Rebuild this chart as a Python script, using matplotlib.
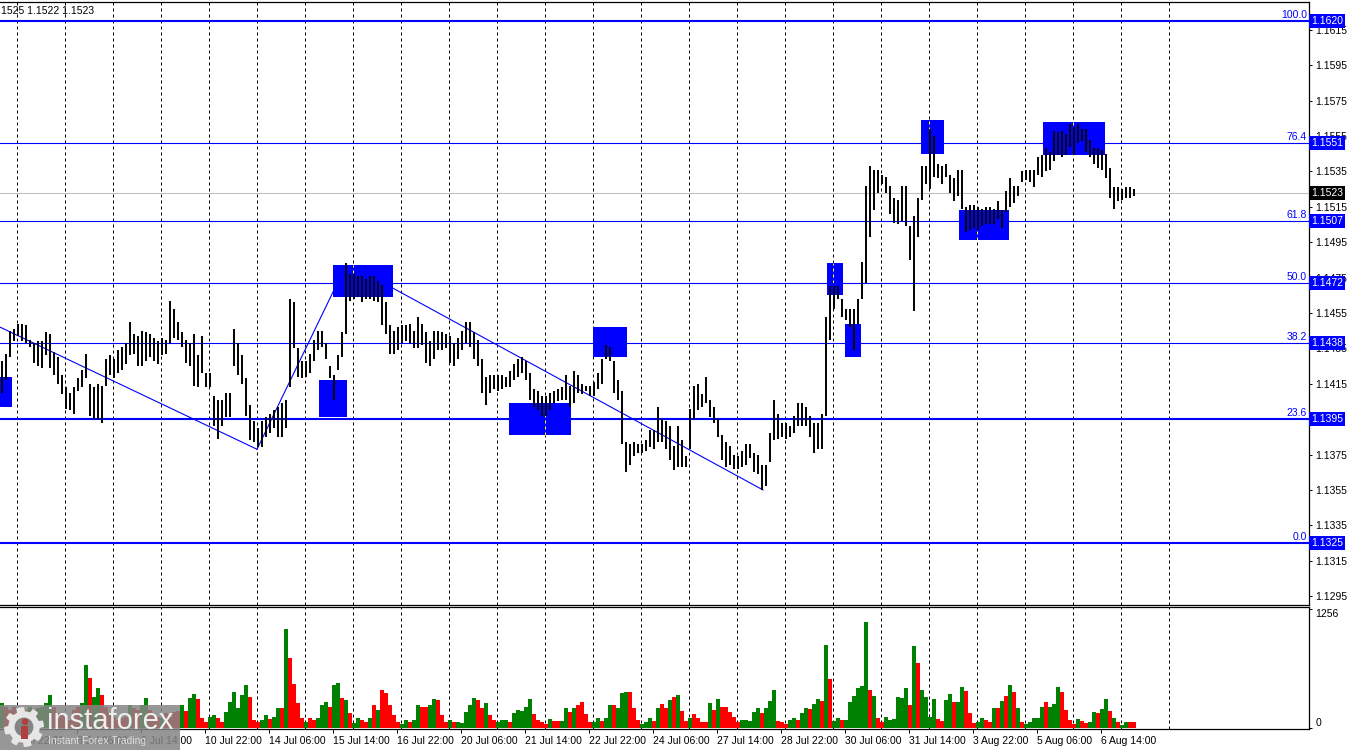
import numpy as np
import matplotlib.pyplot as plt
from matplotlib.patches import Rectangle, Polygon
from matplotlib.transforms import blended_transform_factory

plt.rcParams['font.family'] = ['Liberation Sans', 'DejaVu Sans']

# EURUSD, 2-hour steps (high / low of each step)
highs = [
    1.1428, 1.1432, 1.1445, 1.1446, 1.1449, 1.1449, 1.1448, 1.1440, 1.1438, 1.1439,
    1.1439, 1.1444, 1.1443, 1.1433, 1.1430, 1.1420, 1.1413, 1.1410, 1.1413, 1.1418,
    1.1423, 1.1432, 1.1415, 1.1413, 1.1415, 1.1414, 1.1429, 1.1431, 1.1429, 1.1434,
    1.1436, 1.1438, 1.1450, 1.1443, 1.1442, 1.1445, 1.1444, 1.1443, 1.1441, 1.1439,
    1.1441, 1.1440, 1.1462, 1.1457, 1.1450, 1.1444, 1.1440, 1.1438, 1.1443, 1.1431,
    1.1442, 1.1421, 1.1421, 1.1408, 1.1406, 1.1406, 1.1410, 1.1410, 1.1446, 1.1438,
    1.1431, 1.1418, 1.1403, 1.1394, 1.1390, 1.1394, 1.1396, 1.1398, 1.1400, 1.1402,
    1.1404, 1.1406, 1.1463, 1.1461, 1.1435, 1.1428, 1.1428, 1.1432, 1.1440, 1.1445,
    1.1445, 1.1438, 1.1425, 1.1420, 1.1431,
    1.1444, 1.1483, 1.1477, 1.1477, 1.1476, 1.1476, 1.1474, 1.1476, 1.1476, 1.1473,
    1.1471, 1.1461, 1.1448, 1.1445, 1.1447, 1.1448, 1.1448, 1.1449, 1.1445, 1.1453,
    1.1449, 1.1444, 1.1439, 1.1445, 1.1445, 1.1444, 1.1443, 1.1442, 1.1438, 1.1441,
    1.1445, 1.1450, 1.1450, 1.1444, 1.1440, 1.1429, 1.1419, 1.1420, 1.1420, 1.1420,
    1.1420, 1.1419, 1.1422, 1.1426, 1.1429, 1.1430, 1.1428, 1.1421, 1.1412, 1.1411,
    1.1408, 1.1408, 1.1410, 1.1411, 1.1412, 1.1413, 1.1420, 1.1414, 1.1422, 1.1420,
    1.1415, 1.1414, 1.1414, 1.1416, 1.1421, 1.1429, 1.1437, 1.1436, 1.1428, 1.1417,
    1.1411, 1.1382, 1.1381, 1.1382, 1.1381, 1.1381, 1.1383, 1.1389, 1.1389, 1.1402,
    1.1395,
    1.1394, 1.1391, 1.1380, 1.1391, 1.1383, 1.1374, 1.1401, 1.1414, 1.1415, 1.1409,
    1.1419, 1.1406, 1.1402, 1.1395, 1.1386, 1.1382, 1.1380, 1.1375, 1.1374, 1.1377,
    1.1381, 1.1381, 1.1376, 1.1375, 1.1369, 1.1369, 1.1387, 1.1406, 1.1398, 1.1393,
    1.1393, 1.1391, 1.1397, 1.1404, 1.1404, 1.1402, 1.1397, 1.1393, 1.1393, 1.1398,
    1.1453, 1.1470, 1.1470, 1.1470, 1.1463, 1.1457, 1.1457, 1.1457, 1.1463, 1.1484,
    1.1527, 1.1538, 1.1536, 1.1536, 1.1533, 1.1532, 1.1527, 1.1520, 1.1519, 1.1527,
    1.1527, 1.1504, 1.1510, 1.1520, 1.1538, 1.1538, 1.1559, 1.1555, 1.1539, 1.1538,
    1.1539, 1.1533, 1.1531, 1.1536, 1.1536, 1.1515, 1.1516, 1.1516, 1.1515, 1.1514,
    1.1515, 1.1515, 1.1514, 1.1518,
    1.1513, 1.1524, 1.1531, 1.1527, 1.1527, 1.1535, 1.1536, 1.1536, 1.1536, 1.1543,
    1.1544, 1.1548, 1.1546, 1.1558, 1.1557, 1.1558, 1.1556, 1.1562, 1.1560, 1.1562,
    1.1559, 1.1559, 1.1553, 1.1548, 1.1548, 1.1547, 1.1545, 1.1537, 1.1526, 1.1526,
    1.1525, 1.1526, 1.1526, 1.1525,
]
lows = [
    1.1410, 1.1417, 1.1430, 1.1439, 1.1442, 1.1439, 1.1438, 1.1436, 1.1427, 1.1425,
    1.1424, 1.1431, 1.1424, 1.1420, 1.1415, 1.1409, 1.1401, 1.1400, 1.1398, 1.1411,
    1.1413, 1.1418, 1.1397, 1.1395, 1.1395, 1.1393, 1.1414, 1.1420, 1.1418, 1.1421,
    1.1423, 1.1426, 1.1431, 1.1432, 1.1425, 1.1425, 1.1428, 1.1430, 1.1428, 1.1426,
    1.1431, 1.1432, 1.1438, 1.1441, 1.1440, 1.1436, 1.1427, 1.1425, 1.1414, 1.1413,
    1.1421, 1.1413, 1.1413, 1.1391, 1.1384, 1.1391, 1.1396, 1.1396, 1.1425, 1.1420,
    1.1415, 1.1397, 1.1383, 1.1382, 1.1379, 1.1379, 1.1385, 1.1387, 1.1390, 1.1385,
    1.1385, 1.1390, 1.1413, 1.1435, 1.1419, 1.1418, 1.1419, 1.1421, 1.1428, 1.1434,
    1.1436, 1.1429, 1.1418, 1.1406, 1.1423,
    1.1430, 1.1443, 1.1462, 1.1463, 1.1464, 1.1461, 1.1463, 1.1463, 1.1462, 1.1461,
    1.1448, 1.1443, 1.1432, 1.1432, 1.1434, 1.1438, 1.1439, 1.1438, 1.1435, 1.1435,
    1.1437, 1.1427, 1.1425, 1.1429, 1.1434, 1.1434, 1.1435, 1.1427, 1.1425, 1.1429,
    1.1434, 1.1438, 1.1436, 1.1429, 1.1425, 1.1410, 1.1403, 1.1410, 1.1412, 1.1411,
    1.1412, 1.1413, 1.1413, 1.1417, 1.1419, 1.1421, 1.1417, 1.1406, 1.1402, 1.1400,
    1.1397, 1.1397, 1.1400, 1.1404, 1.1405, 1.1406, 1.1406, 1.1402, 1.1404, 1.1410,
    1.1409, 1.1411, 1.1408, 1.1408, 1.1412, 1.1415, 1.1429, 1.1428, 1.1410, 1.1406,
    1.1381, 1.1365, 1.1369, 1.1374, 1.1376, 1.1376, 1.1377, 1.1379, 1.1378, 1.1382,
    1.1382,
    1.1378, 1.1372, 1.1366, 1.1368, 1.1368, 1.1368, 1.1378, 1.1395, 1.1400, 1.1402,
    1.1404, 1.1396, 1.1393, 1.1385, 1.1372, 1.1368, 1.1369, 1.1367, 1.1367, 1.1368,
    1.1369, 1.1373, 1.1365, 1.1364, 1.1355, 1.1357, 1.1371, 1.1383, 1.1384, 1.1385,
    1.1384, 1.1385, 1.1387, 1.1391, 1.1391, 1.1391, 1.1385, 1.1376, 1.1378, 1.1378,
    1.1397, 1.1440, 1.1457, 1.1463, 1.1453, 1.1451, 1.1447, 1.1434, 1.1449, 1.1463,
    1.1472, 1.1498, 1.1513, 1.1523, 1.1528, 1.1523, 1.1511, 1.1506, 1.1505, 1.1507,
    1.1504, 1.1485, 1.1456, 1.1498, 1.1519, 1.1528, 1.1525, 1.1532, 1.1531, 1.1528,
    1.1532, 1.1523, 1.1518, 1.1521, 1.1514, 1.1501, 1.1502, 1.1503, 1.1502, 1.1504,
    1.1505, 1.1505, 1.1505, 1.1508,
    1.1503, 1.1512, 1.1515, 1.1517, 1.1521, 1.1529, 1.1530, 1.1529, 1.1526, 1.1533,
    1.1532, 1.1535, 1.1536, 1.1541, 1.1544, 1.1543, 1.1544, 1.1549, 1.1544, 1.1551,
    1.1552, 1.1546, 1.1543, 1.1539, 1.1537, 1.1536, 1.1531, 1.1520, 1.1514, 1.1518,
    1.1519, 1.1520, 1.1520, 1.1521,
]

# tick volume per step, and G = up step / R = down step
volumes = [
    258, 222, 187, 222, 187, 169, 187, 222, 187, 205, 222, 258, 346, 222, 152, 134,
    116, 81, 187, 222, 258, 664, 522, 328, 417, 346, 222, 152, 116, 81, 99, 116,
    240, 205, 187, 240, 311, 187, 134, 116, 99, 152, 116,
    170, 178, 241, 178, 312, 355, 305, 99, 64, 117, 135, 99, 64, 170, 277, 383,
    206, 348, 454, 330, 82, 64, 82, 135, 89, 117, 206, 206, 1051, 738, 465, 259,
    99, 57, 99, 82, 99, 241, 277, 224, 454, 472, 312, 295, 153, 46, 99, 82,
    64, 99, 241, 188, 401, 366, 241, 135, 64, 36, 82, 64, 82, 241, 224, 224,
    241, 305, 295, 135, 64, 82, 57, 57, 46, 170, 241, 312, 295, 206, 259, 135,
    82, 57,
    82, 82, 64, 153, 188, 178, 224, 302, 142, 82, 57, 36, 92, 71, 71, 71,
    206, 170, 206, 241, 270, 142, 57, 57, 99, 71, 99, 241, 241, 206, 366, 376,
    383, 206, 82, 36, 64, 99, 71, 206, 249, 206, 295, 320, 348, 178, 71, 107,
    142, 107, 64, 57, 259, 188, 305, 224, 224, 170, 117, 64, 82, 82, 71, 163,
    213, 153, 206, 284, 401, 71, 57, 36, 82, 99, 82, 153, 206, 199, 256, 305,
    284, 880, 518, 71, 107, 82, 82, 277, 341, 419, 444, 1122, 401, 341, 99, 64,
    117, 82, 92, 320, 312, 419, 241, 863, 685, 401, 320, 117, 302, 92, 71, 295,
    355, 277, 277, 426, 391, 153, 46, 57, 99, 82, 64, 213, 206, 284, 341, 454,
    376, 213, 64, 36, 57, 107, 99, 224, 277, 224, 249, 426, 376, 188, 82, 36,
    92, 71, 46, 64, 163, 153, 199, 302, 178, 99, 64, 28, 64, 64, 57,
]
vol_dirs = ("GRRRRRRGRGGGGRRRRRRRGGRGGRRRRRRRGRRGGRRRGRR"
            "RRGRGGRRRGGRRGGGGGGRRRGGRGGRGRRRRGRRGGGRGGRGRGGRRGRGRRRRRGGRGGRRGGRRRGRGGGGGRRGRRG"
            "GGRGGGGGRRRRGRRGGRGRRRRGGRGGRGGGRRRGGGRGRRGRGRRGRRRRGRGRRRRRGGGGGRGGGRRRGGRGGRGG"
            "RGRGGRGGGGGGRGRRGGGGGGRGRGGGGRRGGRGGRRRGGRRGRGRGRGRGGGGGRGGGRRRRGRRGGRGGRGRGGRR")

fib_levels = ["100.0", "76.4", "61.8", "50.0", "38.2", "23.6", "0.0"]
fib_prices = [1.1620, 1.1551, 1.1507, 1.1472, 1.1438, 1.1395, 1.1325]
fib_bold = [True, False, False, False, False, True, True]
last_price = 1.1523

# analyst boxes: (from step, to step, low, high)
zones = [
    (-0.5, 2.5, 1.1402, 1.1419),
    (79.25, 86.25, 1.1396, 1.1417),
    (82.75, 97.75, 1.1464, 1.1482),
    (126.75, 142.25, 1.1386, 1.1404),
    (147.75, 156.25, 1.1430, 1.1447),
    (206.25, 210.25, 1.1465, 1.1483),
    (210.75, 214.75, 1.1430, 1.1449),
    (229.75, 235.5, 1.1545, 1.1564),
    (239.25, 251.75, 1.1496, 1.1513),
    (260.25, 275.75, 1.1544, 1.1563),
]
trend_lines = [
    ((-0.5, 1.1447), (63.75, 1.1378)),
    ((63.75, 1.1378), (83.0, 1.1468)),
    ((97.75, 1.1469), (190.25, 1.1355)),
]

time_labels = ["6 Jul 22:00", "8 Jul 06:00", "9 Jul 14:00", "10 Jul 22:00",
               "14 Jul 06:00", "15 Jul 14:00", "16 Jul 22:00", "20 Jul 06:00",
               "21 Jul 14:00", "22 Jul 22:00", "24 Jul 06:00", "27 Jul 14:00",
               "28 Jul 22:00", "30 Jul 06:00", "31 Jul 14:00", "3 Aug 22:00",
               "5 Aug 06:00", "6 Aug 14:00"]
first_label_step = 2.75
label_every = 16     # 32 hours
first_grid_step = 3.75
grid_every = 12      # one day
n_grid = 25

BLUE = '#0000ff'
FS = 7.5

steps = np.arange(len(highs))
x_right = 1309 / 4 - 0.5

fig = plt.figure(figsize=(13.5, 7.5), dpi=100)
ax = fig.add_axes([0, 145 / 750, 1309 / 1350, 603 / 750])
axv = fig.add_axes([0, 21 / 750, 1309 / 1350, 122 / 750])

grid_x = [first_grid_step + grid_every * k for k in range(n_grid)]

# price panel
ax.set_xlim(-0.5, x_right)
ax.set_ylim(1.1290, 1.16307)
for gx in grid_x:
    ax.axvline(gx, color='black', lw=0.72, ls=(0, (3, 3)), zorder=1)

for x0, x1, lo, hi in zones:
    ax.add_patch(Rectangle((x0, lo), x1 - x0, hi - lo, fc=BLUE, ec='none', zorder=2))
    for gx in grid_x:
        if x0 < gx < x1:
            ax.plot([gx, gx], [lo, hi], color='#ffff00', lw=0.72, ls=(0, (3, 3)), zorder=2.5)

for p, bold in zip(fib_prices, fib_bold):
    ax.axhline(p, color=BLUE, lw=1.5 if bold else 0.8, zorder=3)
ax.axhline(last_price, color='#c0c0c0', lw=0.8, zorder=3)

for (xa, ya), (xb, yb) in trend_lines:
    ax.plot([xa, xb], [ya, yb], color=BLUE, lw=0.8, zorder=3)

ax.vlines(steps, lows, highs, color='black', lw=1.4, zorder=4)

trans = blended_transform_factory(ax.transAxes, ax.transData)
for lab, p in zip(fib_levels, fib_prices):
    ax.text(0.9985, p + 0.00004, lab, transform=trans, ha='right', va='bottom',
            color=BLUE, fontsize=FS, zorder=5)

# right price scale; 1.1395 sits under the 23.6 box, so it is left out
yticks = [t for t in np.round(np.arange(1.1295, 1.1616, 0.0020), 4) if abs(t - 1.1395) > 1e-6]
ax.yaxis.tick_right()
ax.set_yticks(yticks)
ax.yaxis.set_major_formatter(plt.FormatStrFormatter('%.4f'))
ax.tick_params(axis='y', direction='out', length=2.5, width=0.72, pad=2, labelsize=FS)
ax.set_xticks([])
for lab, p in zip(fib_levels, fib_prices):
    ax.text(1.0015, p, f"{p:.4f}", transform=trans, ha='left', va='center', color='white',
            fontsize=FS, zorder=6, clip_on=False,
            bbox=dict(boxstyle='square,pad=0.2', fc=BLUE, ec='none'))
ax.text(1.0015, last_price, f"{last_price:.4f}", transform=trans, ha='left', va='center',
        color='white', fontsize=FS, zorder=6, clip_on=False,
        bbox=dict(boxstyle='square,pad=0.2', fc='black', ec='none'))

for s in ['top', 'right', 'bottom']:
    ax.spines[s].set_linewidth(0.9)
ax.spines['left'].set_visible(False)

ax.text(0.0005, 0.985, "1525 1.1522 1.1523", transform=ax.transAxes, ha='left', va='center',
        fontsize=FS, zorder=6)

# volume panel
axv.set_xlim(-0.5, x_right)
axv.set_ylim(-14, 1279)
for gx in grid_x:
    axv.axvline(gx, color='black', lw=0.72, ls=(0, (3, 3)), zorder=1)
vcols = ['#008000' if d == 'G' else '#ff0000' for d in vol_dirs]
axv.bar(steps, volumes, width=1.0, color=vcols, linewidth=0, zorder=2)

axv.yaxis.tick_right()
axv.set_yticks([0, 1256])
axv.set_yticklabels(['0', '1256'])
axv.tick_params(axis='y', direction='out', length=2.5, width=0.72, pad=2, labelsize=FS)
ylabs = axv.get_yticklabels()
ylabs[0].set_va('bottom')
ylabs[1].set_va('top')

tick_pos = [first_label_step + label_every * k for k in range(len(time_labels))]
axv.set_xticks(tick_pos)
axv.set_xticklabels(time_labels)
axv.tick_params(axis='x', direction='out', length=3, width=0.72, pad=2, labelsize=FS)
for t in axv.get_xticklabels():
    t.set_ha('left')
for s in ['top', 'right', 'bottom']:
    axv.spines[s].set_linewidth(0.9)
axv.spines['left'].set_visible(False)

# watermark in the bottom left corner
fig.patches.append(Rectangle((0, 0), 180 / 1350, 45 / 750, transform=fig.transFigure,
                             fc='#858585', ec='none', alpha=0.85, zorder=10))
logo = fig.add_axes([3 / 1350, 2 / 750, 42 / 1350, 42 / 750], zorder=11)
logo.set_xlim(-1, 1)
logo.set_ylim(-1, 1)
logo.axis('off')
ang = np.linspace(0, 2 * np.pi, 97)
rad = np.where((np.floor(ang / (2 * np.pi / 16)) % 2) == 0, 0.95, 0.75)
logo.add_patch(Polygon(np.c_[rad * np.cos(ang), rad * np.sin(ang)], fc='#e6e6e6', ec='none'))
logo.add_patch(plt.Circle((0, 0), 0.45, fc='#858585', ec='none'))
logo.add_patch(plt.Circle((0.05, 0.25), 0.16, fc='#b04040', ec='none'))
logo.add_patch(Rectangle((-0.12, -0.55), 0.3, 0.6, fc='#b04040', ec='none'))
fig.text(47 / 1350, 29 / 750, "instaforex", fontsize=21, color='#eeeeee',
         ha='left', va='center', zorder=12)
fig.text(48 / 1350, 9 / 750, "Instant Forex Trading", fontsize=7.5, color='#dddddd',
         ha='left', va='center', zorder=12)

fig.savefig('out.png', dpi=100)
